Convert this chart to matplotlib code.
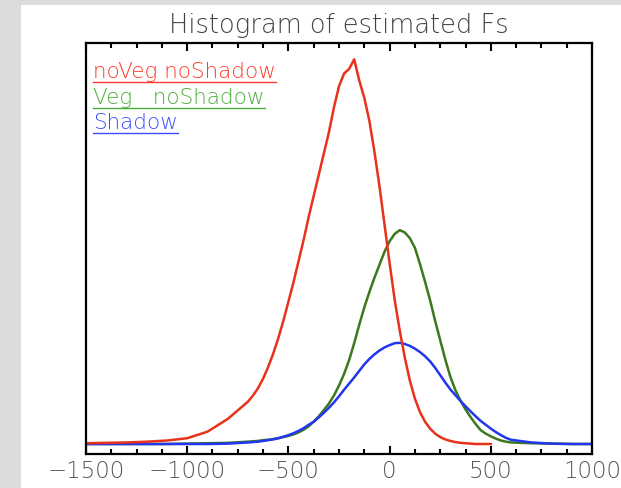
import numpy as np
import matplotlib
matplotlib.use("Agg")
import matplotlib.pyplot as plt
from matplotlib.patches import Rectangle
from matplotlib.lines import Line2D
from matplotlib.ticker import MultipleLocator

# bin centres (estimated Fs) and normalised counts
fs = ([-1500, -1400, -1300, -1200, -1100, -1000, -900, -800, -700]
      + list(range(-675, 625, 25))
      + [700, 800, 900, 1000])

no_veg = [0.002, 0.003, 0.004, 0.006, 0.009, 0.015, 0.032, 0.065, 0.11,
          0.126, 0.145, 0.17, 0.20, 0.235, 0.275, 0.32, 0.37, 0.42, 0.475,
          0.53, 0.59, 0.645, 0.70, 0.755, 0.81, 0.875, 0.93, 0.963, 0.975,
          1.0, 0.945, 0.90, 0.84, 0.76, 0.67, 0.57, 0.47, 0.375, 0.295,
          0.225, 0.165, 0.118, 0.083, 0.058, 0.04, 0.027, 0.018, 0.012, 0.008,
          0.005, 0.003, 0.002, 0.001, 0.0, 0.0, 0.0, 0.0, None,
          None, None, None, None, None, None, None]

veg = [0.0, 0.0, 0.0, 0.0, 0.0, 0.001, 0.002, 0.003, 0.006,
       0.007, 0.008, 0.010, 0.011, 0.013, 0.015, 0.018, 0.021, 0.025, 0.030,
       0.037, 0.046, 0.058, 0.072, 0.088, 0.105, 0.126, 0.152, 0.182, 0.218,
       0.262, 0.31, 0.355, 0.395, 0.432, 0.466, 0.50, 0.527, 0.546, 0.556,
       0.55, 0.535, 0.51, 0.468, 0.422, 0.374, 0.32, 0.27, 0.22, 0.175,
       0.14, 0.113, 0.09, 0.07, 0.052, 0.036, 0.027, 0.02, 0.014, 0.009,
       0.006, 0.004, 0.002, 0.001, 0.0, 0.0]

shadow = [0.0, 0.0, 0.0, 0.0, 0.0, 0.0, 0.0, 0.001, 0.004,
          0.005, 0.006, 0.008, 0.010, 0.012, 0.015, 0.019, 0.023, 0.028, 0.034,
          0.041, 0.050, 0.058, 0.069, 0.081, 0.094, 0.108, 0.124, 0.141, 0.157,
          0.173, 0.19, 0.207, 0.221, 0.233, 0.243, 0.251, 0.257, 0.262, 0.263,
          0.26, 0.255, 0.248, 0.239, 0.228, 0.215, 0.198, 0.179, 0.16, 0.142,
          0.127, 0.112, 0.098, 0.085, 0.072, 0.06, 0.05, 0.04, 0.031, 0.023,
          0.016, 0.011, 0.004, 0.001, 0.0, 0.0]

labels = ["noVeg noShadow", "Veg   noShadow", "Shadow"]

fig = plt.figure(figsize=(6.21, 4.88), dpi=100)
fig.patch.set_facecolor("#dcdcdc")
fig.patches.append(Rectangle((21 / 621, 0), 1, 483 / 488, transform=fig.transFigure,
                             facecolor="white", edgecolor="none", zorder=-5))

ax = fig.add_axes([86 / 621, 34 / 488, 506 / 621, 411 / 488])
ax.set_facecolor("white")
ax.set_zorder(1)

x = np.array(fs, dtype=float)
to_arr = lambda v: np.array([np.nan if a is None else a for a in v], dtype=float)

ax.plot(x, to_arr(veg), color="#3c781e", lw=1.8)
ax.plot(x, to_arr(shadow), color="#2236f0", lw=1.8)
ax.plot(x, to_arr(no_veg), color="#e8321a", lw=1.8)

ax.set_xlim(-1500, 1000)
ax.set_ylim(-0.026, 1.0424)
ax.xaxis.set_major_locator(MultipleLocator(500))
ax.xaxis.set_minor_locator(MultipleLocator(125))
ax.set_yticks([])
ax.tick_params(axis="x", which="both", direction="in", top=True, width=1.5,
               labelsize=16.5, labelcolor="#555555", pad=4)
ax.tick_params(axis="x", which="major", length=6)
ax.tick_params(axis="x", which="minor", length=3.5)
for lab in ax.get_xticklabels():
    lab.set_fontweight("light")
for s in ax.spines.values():
    s.set_linewidth(1.6)

ax.set_title("Histogram of estimated Fs", fontsize=18.5, color="#444444",
             fontweight="light", pad=7)

# underlined colour legend
leg_colors = ["#ff3a2a", "#4cae3a", "#3a4eff"]
leg_y = [78, 104, 129]
fig.canvas.draw()
r = fig.canvas.get_renderer()
for lab, col, yb in zip(labels, leg_colors, leg_y):
    t = fig.text(93 / 621, 1 - yb / 488, lab, color=col, fontsize=15.5,
                 fontweight="light", va="baseline", ha="left", zorder=5)
    bb = t.get_window_extent(r)
    yl = 1 - (yb + 4) / 488
    fig.lines.append(Line2D([bb.x0 / 621, bb.x1 / 621], [yl, yl], transform=fig.transFigure,
                            color=col, lw=1.0, zorder=5))

fig.savefig("out.png", dpi=100, facecolor=fig.get_facecolor())
